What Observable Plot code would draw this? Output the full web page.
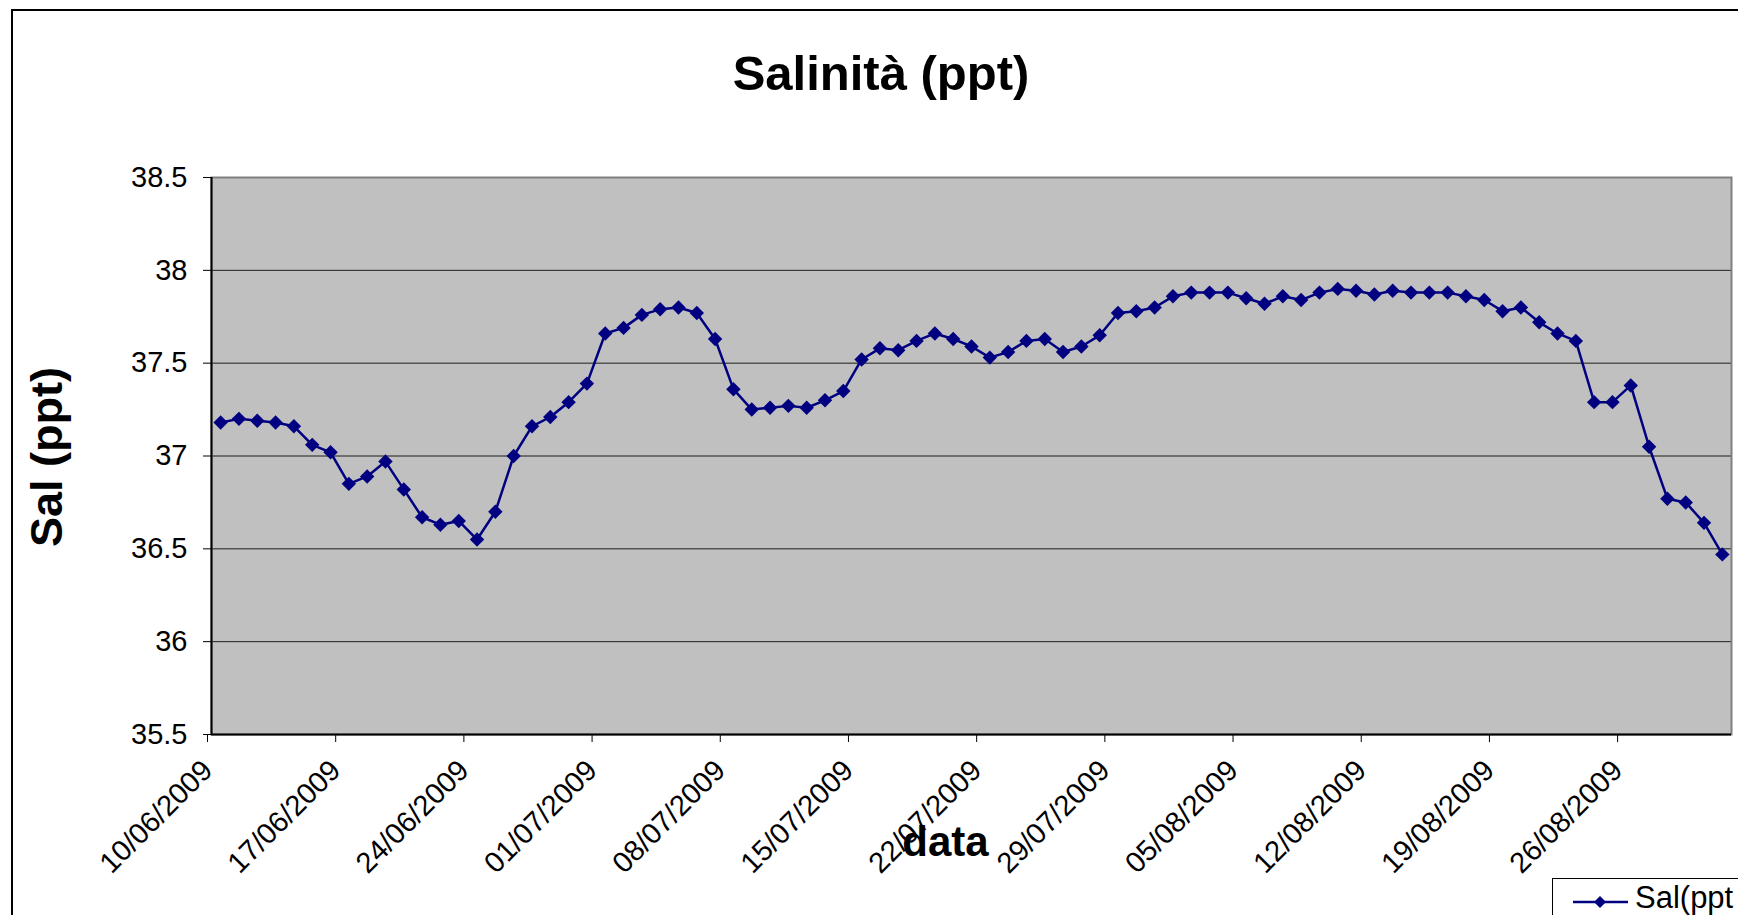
<!DOCTYPE html>
<html>
<head>
<meta charset="utf-8">
<script src="https://cdn.jsdelivr.net/npm/d3@7"></script>
<script src="https://cdn.jsdelivr.net/npm/@observablehq/plot@0.6"></script>
<style>
  html, body { margin: 0; padding: 0; background: #fff; overflow: hidden; }
  #wrap { position: relative; width: 1738px; height: 915px; overflow: hidden; font-family: "Liberation Sans", Arial, sans-serif; color: #000; }
  #frame { position: absolute; left: 11px; top: 9px; width: 1800px; height: 1000px; border: 2px solid #000; box-sizing: border-box; }
  #chart { position: absolute; left: 0; top: 0; }
  .lbl { position: absolute; white-space: nowrap; line-height: 1; }
  #title { left: 0; width: 1762px; text-align: center; top: 48.5px; font-size: 49px; font-weight: bold; }
  #ytitle { left: 46px; top: 457px; font-size: 45px; font-weight: bold; transform: translate(-50%, -50%) rotate(-90deg); }
  #xtitle { left: 945.5px; top: 821px; font-size: 42px; font-weight: bold; transform: translateX(-50%); }
  #legend { position: absolute; left: 1552px; top: 878px; width: 300px; height: 100px; border: 1px solid #000; background: #fff; box-sizing: border-box; }
  #legend svg { position: absolute; left: 19px; top: 12px; }
  #legend span { position: absolute; left: 82px; top: 2px; white-space: nowrap; font-size: 31px; line-height: 1.1; }
</style>
</head>
<body>
<div id="wrap">
  <div id="frame"></div>
  <div id="chart"></div>
  <div class="lbl" id="title">Salinità (ppt)</div>
  <div class="lbl" id="ytitle">Sal (ppt)</div>
  <div class="lbl" id="xtitle">data</div>
  <div id="legend">
    <svg width="58" height="22" viewBox="0 0 58 22">
      <line x1="1" y1="11" x2="56" y2="11" stroke="#000080" stroke-width="2.5"></line>
      <path d="M28,5L34,11L28,17L22,11Z" fill="#000080"></path>
    </svg>
    <span>Sal(ppt</span>
  </div>
</div>
<script>
// ---- data ----
const dates = [
  "2009-06-10","2009-06-11","2009-06-12","2009-06-13","2009-06-14","2009-06-15","2009-06-16",
  "2009-06-17","2009-06-18","2009-06-19","2009-06-20","2009-06-21","2009-06-22","2009-06-23",
  "2009-06-24","2009-06-25","2009-06-26","2009-06-27","2009-06-28","2009-06-29","2009-06-30",
  "2009-07-01","2009-07-02","2009-07-03","2009-07-04","2009-07-05","2009-07-06","2009-07-07",
  "2009-07-08","2009-07-09","2009-07-10","2009-07-11","2009-07-12","2009-07-13","2009-07-14",
  "2009-07-15","2009-07-16","2009-07-17","2009-07-18","2009-07-19","2009-07-20","2009-07-21",
  "2009-07-22","2009-07-23","2009-07-24","2009-07-25","2009-07-26","2009-07-27","2009-07-28",
  "2009-07-29","2009-07-30","2009-07-31","2009-08-01","2009-08-02","2009-08-03","2009-08-04",
  "2009-08-05","2009-08-06","2009-08-07","2009-08-08","2009-08-09","2009-08-10","2009-08-11",
  "2009-08-12","2009-08-13","2009-08-14","2009-08-15","2009-08-16","2009-08-17","2009-08-18",
  "2009-08-19","2009-08-20","2009-08-21","2009-08-22","2009-08-23","2009-08-24","2009-08-25",
  "2009-08-26","2009-08-27","2009-08-28","2009-08-29","2009-08-30","2009-08-31"
];
const salinity = [
  37.18, 37.20, 37.19, 37.18, 37.16, 37.06, 37.02,
  36.85, 36.89, 36.97, 36.82, 36.67, 36.63, 36.65,
  36.55, 36.70, 37.00, 37.16, 37.21, 37.29, 37.39,
  37.66, 37.69, 37.76, 37.79, 37.80, 37.77, 37.63,
  37.36, 37.25, 37.26, 37.27, 37.26, 37.30, 37.35,
  37.52, 37.58, 37.57, 37.62, 37.66, 37.63, 37.59,
  37.53, 37.56, 37.62, 37.63, 37.56, 37.59, 37.65,
  37.77, 37.78, 37.80, 37.86, 37.88, 37.88, 37.88,
  37.85, 37.82, 37.86, 37.84, 37.88, 37.90, 37.89,
  37.87, 37.89, 37.88, 37.88, 37.88, 37.86, 37.84,
  37.78, 37.80, 37.72, 37.66, 37.62, 37.29, 37.29,
  37.38, 37.05, 36.77, 36.75, 36.64, 36.47
];
const xTickDates = ["2009-06-10","2009-06-17","2009-06-24","2009-07-01","2009-07-08","2009-07-15",
  "2009-07-22","2009-07-29","2009-08-05","2009-08-12","2009-08-19","2009-08-26"];
const xDomain = ["2009-06-10", "2009-09-01"];
const yTicks = [35.5, 36, 36.5, 37, 37.5, 38, 38.5];
const yDomain = [35.5, 38.5];

// ---- build table (each day's value plotted at mid-day, as in the original category layout) ----
const table = dates.map((d, i) => ({date: new Date(d + "T12:00:00Z"), sal: salinity[i]}));
const xd = xDomain.map(d => new Date(d + "T00:00:00Z"));
const xt = xTickDates.map(d => new Date(d + "T00:00:00Z"));
const navy = "#000080";

const chart = Plot.plot({
  width: 1738,
  height: 915,
  marginTop: 177,
  marginLeft: 211,
  marginRight: 7,
  marginBottom: 181,
  style: {fontFamily: "'Liberation Sans', Arial, sans-serif", fontSize: "29px", background: "transparent", color: "#000"},
  x: {type: "utc", domain: xd},
  y: {domain: yDomain},
  marks: [
    Plot.frame({fill: "#C0C0C0", stroke: null}),
    Plot.gridY(yTicks, {stroke: "#000", strokeOpacity: 0.85, strokeWidth: 1}),
    Plot.frame({stroke: "#808080", strokeWidth: 2, fill: "none"}),
    Plot.ruleY([yDomain[0]], {stroke: "#000", strokeWidth: 2}),
    Plot.ruleX([xd[0]], {stroke: "#000", strokeWidth: 2}),
    Plot.axisY({ticks: yTicks, tickFormat: d => String(d), tickSize: 8, tickPadding: 16, label: null, stroke: "#000", strokeOpacity: 1}),
    Plot.axisX({ticks: xt, tickFormat: d3.utcFormat("%d/%m/%Y"), tickRotate: -45, tickSize: 8, tickPadding: 23, dx: -4, label: null, stroke: "#000", strokeOpacity: 1}),
    Plot.line(table, {x: "date", y: "sal", stroke: navy, strokeWidth: 2.5}),
    Plot.dot(table, {x: "date", y: "sal", symbol: "diamond2", r: 6.5, fill: navy, stroke: null})
  ]
});
document.getElementById("chart").appendChild(chart);
</script>
</body>
</html>
